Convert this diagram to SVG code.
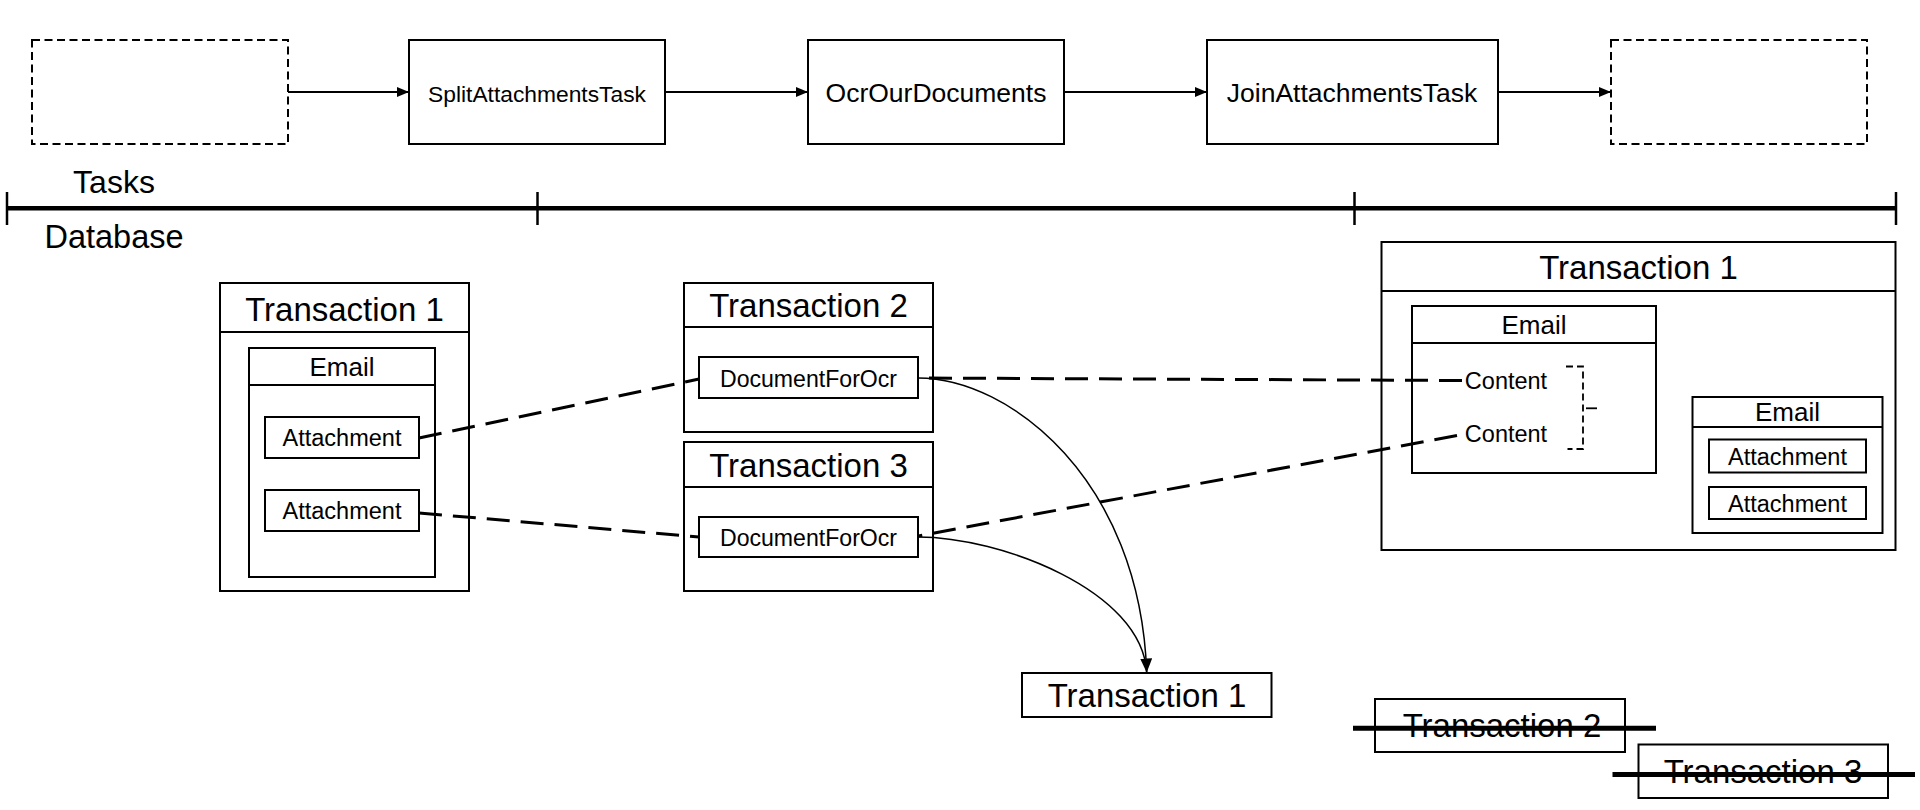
<svg xmlns="http://www.w3.org/2000/svg" width="1920" height="810" viewBox="0 0 1920 810">
<style>
.box{fill:#fff;stroke:#000;stroke-width:2}
.dbox{fill:#fff;stroke:#000;stroke-width:2;stroke-dasharray:8 4.5}
.div{stroke:#000;stroke-width:2}
text{font-family:"Liberation Sans",Arial,sans-serif;fill:#000;text-anchor:middle}
.t33{font-size:33px}
.email{font-size:26px}
.small{font-size:23.5px}
.task{font-size:26.5px}
.dash{fill:none;stroke:#000;stroke-width:3;stroke-dasharray:23 11}
.arr{fill:none;stroke:#000;stroke-width:2}
.curve{fill:none;stroke:#000;stroke-width:1.5}
.strike{stroke:#000;stroke-width:5}
</style>
<defs>
<marker id="ah" markerUnits="userSpaceOnUse" markerWidth="12" markerHeight="11" refX="12" refY="5.5" orient="auto">
<path d="M0,0.5 L12,5.5 L0,10.5 Z" fill="#000"/>
</marker>
<marker id="ah2" markerUnits="userSpaceOnUse" markerWidth="14" markerHeight="12" refX="14" refY="6" orient="auto">
<path d="M0,0 L14,6 L0,12 Z" fill="#000"/>
</marker>
</defs>
<rect width="1920" height="810" fill="#fff"/>

<g id="lanes">
<line x1="7" y1="208.3" x2="1896" y2="208.3" stroke="#000" stroke-width="4.5"/>
<line x1="7" y1="192" x2="7" y2="225" stroke="#000" stroke-width="2.5"/>
<line x1="537.5" y1="192" x2="537.5" y2="225" stroke="#000" stroke-width="2.5"/>
<line x1="1354.5" y1="192" x2="1354.5" y2="225" stroke="#000" stroke-width="2.5"/>
<line x1="1896" y1="192" x2="1896" y2="225" stroke="#000" stroke-width="2.5"/>
<text x="114" y="193" style="font-size:32px">Tasks</text>
<text x="114" y="247.5" style="font-size:32.5px">Database</text>
</g>

<g id="task-prev"><rect class="dbox" x="32" y="40" width="256" height="104"/></g>
<g id="task-split"><rect class="box" x="409" y="40" width="256" height="104"/><text x="537" y="101.5" style="font-size:22.8px">SplitAttachmentsTask</text></g>
<g id="task-ocr"><rect class="box" x="808" y="40" width="256" height="104"/><text x="936" y="101.5" class="task">OcrOurDocuments</text></g>
<g id="task-join"><rect class="box" x="1207" y="40" width="291" height="104"/><text x="1352" y="101.5" class="task">JoinAttachmentsTask</text></g>
<g id="task-next"><rect class="dbox" x="1611" y="40" width="256" height="104"/></g>

<g id="tx1-left">
<rect class="box" x="220" y="283" width="249" height="308"/>
<line class="div" x1="220" y1="332" x2="469" y2="332"/>
<text x="344.5" y="320.5" class="t33">Transaction 1</text>
</g>
<g id="email-left">
<rect class="box" x="249" y="348" width="186" height="229"/>
<line class="div" x1="249" y1="385" x2="435" y2="385"/>
<text x="342" y="375.5" class="email">Email</text>
</g>
<g id="attachment-1"><rect class="box" x="265" y="417" width="154" height="41"/><text x="342" y="446" class="small">Attachment</text></g>
<g id="attachment-2"><rect class="box" x="265" y="490" width="154" height="41"/><text x="342" y="519" class="small">Attachment</text></g>

<g id="tx2">
<rect class="box" x="684" y="283" width="249" height="149"/>
<line class="div" x1="684" y1="327" x2="933" y2="327"/>
<text x="808.5" y="317" class="t33">Transaction 2</text>
</g>
<g id="doc-ocr-2"><rect class="box" x="699" y="357" width="219" height="41"/><text x="808.5" y="386.5" style="font-size:23.1px">DocumentForOcr</text></g>
<g id="tx3">
<rect class="box" x="684" y="442" width="249" height="149"/>
<line class="div" x1="684" y1="487" x2="933" y2="487"/>
<text x="808.5" y="476.5" class="t33">Transaction 3</text>
</g>
<g id="doc-ocr-3"><rect class="box" x="699" y="517" width="219" height="40"/><text x="808.5" y="545.5" style="font-size:23.1px">DocumentForOcr</text></g>

<g id="tx1-right">
<rect class="box" x="1381.5" y="242" width="514" height="308"/>
<line class="div" x1="1381.5" y1="291" x2="1895.5" y2="291"/>
<text x="1638.5" y="278.5" class="t33">Transaction 1</text>
</g>
<g id="email-joined">
<rect class="box" x="1412" y="306" width="244" height="167"/>
<line class="div" x1="1412" y1="343" x2="1656" y2="343"/>
<text x="1534" y="333.5" class="email">Email</text>
<text x="1506" y="389.3" class="small">Content</text>
<text x="1506" y="441.7" class="small">Content</text>
<path d="M1566 366.5 H1583 V449 H1567.5" fill="none" stroke="#000" stroke-width="1.8" stroke-dasharray="7 4"/>
<line x1="1586" y1="408.3" x2="1597" y2="408.3" stroke="#000" stroke-width="1.8"/>
</g>
<g id="email-right">
<rect class="box" x="1692.5" y="397" width="190" height="136"/>
<line class="div" x1="1692.5" y1="427" x2="1882.5" y2="427"/>
<text x="1787.5" y="421" class="email">Email</text>
</g>
<g id="attachment-r1"><rect class="box" x="1709" y="439.5" width="157" height="33"/><text x="1787.5" y="464.5" class="small">Attachment</text></g>
<g id="attachment-r2"><rect class="box" x="1709" y="487" width="157" height="32"/><text x="1787.5" y="511.5" class="small">Attachment</text></g>

<g id="tx1-bottom"><rect class="box" x="1022" y="673" width="249.5" height="44"/><text x="1147" y="706.8" class="t33">Transaction 1</text></g>
<g id="tx2-struck"><rect class="box" x="1375" y="699" width="250" height="53"/><text x="1502" y="737" class="t33">Transaction 2</text><line class="strike" x1="1353" y1="728.3" x2="1656" y2="728.3"/></g>
<g id="tx3-struck"><rect class="box" x="1638.5" y="744.5" width="249.5" height="53.5"/><text x="1763" y="782.8" class="t33">Transaction 3</text><line class="strike" x1="1612.5" y1="774.5" x2="1915" y2="774.5"/></g>

<g id="connectors">
<line class="arr" x1="288" y1="92" x2="409" y2="92" marker-end="url(#ah)"/>
<line class="arr" x1="665" y1="92" x2="808" y2="92" marker-end="url(#ah)"/>
<line class="arr" x1="1064" y1="92" x2="1207" y2="92" marker-end="url(#ah)"/>
<line class="arr" x1="1498" y1="92" x2="1611" y2="92" marker-end="url(#ah)"/>
<path class="dash" d="M419 438 L699 379"/>
<path class="dash" d="M419 513 L699 537"/>
<path class="dash" d="M1462 380.5 L918 378"/>
<path class="dash" d="M1457 435.5 L918.5 536"/>
<path class="curve" d="M918 378 C1010 378 1140 480 1146.7 672.5" marker-end="url(#ah2)"/>
<path class="curve" d="M918 537 C1000 537 1142 590 1146.7 672.5"/>
</g>
</svg>
